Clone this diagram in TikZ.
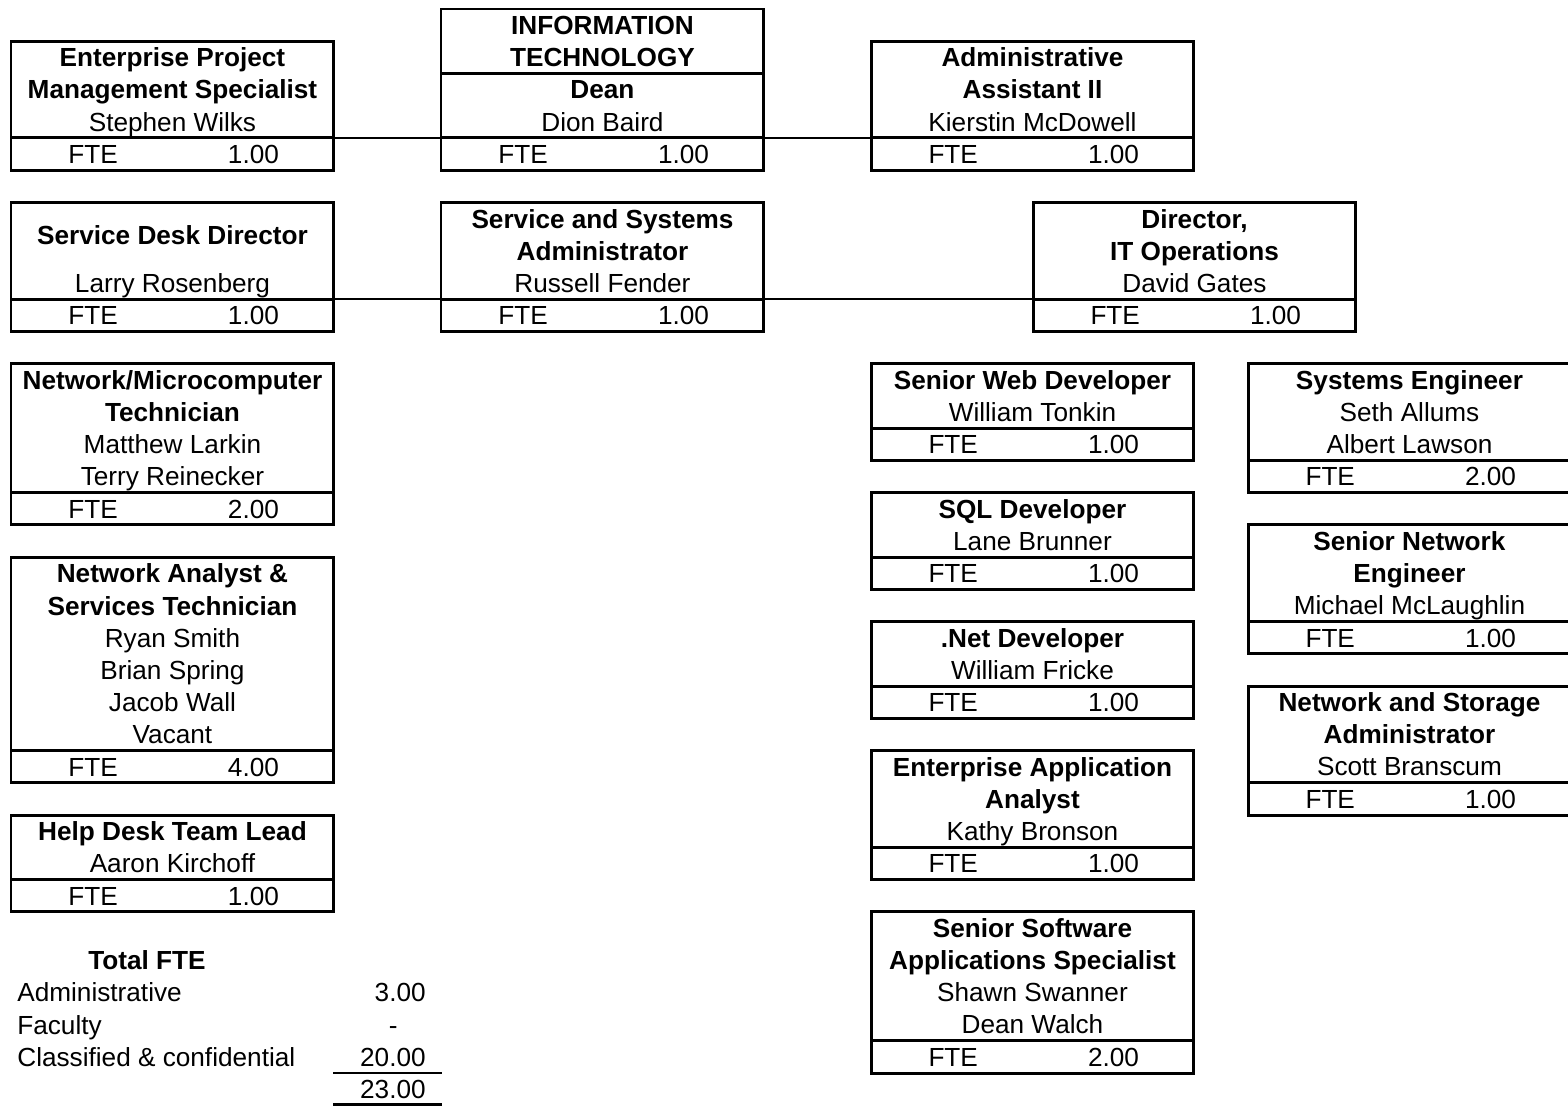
\documentclass[tikz,border=0pt]{standalone}
\usepackage{fontspec}
\setmainfont{Liberation Sans}
\usetikzlibrary{positioning}
\newcommand{\orgfont}{\fontsize{14.9pt}{18.29pt}\selectfont}
\newcommand{\rl}{\rule[-0.21\baselineskip]{0pt}{\baselineskip}}
\newcommand{\rll}{\rule[-0.21\baselineskip]{0pt}{1.5\baselineskip}}
\newcommand{\fte}[1]{\makebox[6.46cm]{\rl\hspace{1.15cm}FTE\hfill#1\hspace{1.1cm}}}
\tikzset{
card/.style={draw,line width=1.7pt,inner sep=0pt,outer sep=0pt,minimum width=6.46cm,minimum height=#1*0.645cm,align=center,anchor=north west,font=\orgfont},
card/.default=1,
fterow/.style={draw,line width=1.7pt,inner sep=0pt,outer sep=0pt,minimum width=6.46cm,minimum height=0.645cm,font=\orgfont,below=0pt of #1},
link/.style={line width=1.2pt},
total/.style={inner sep=0pt,font=\orgfont},
sumline/.style={line width=1.5pt}
}

\begin{document}
\begin{tikzpicture}[x=0.02cm,y=-0.645cm]
\useasboundingbox (0,-0.279) rectangle (1568,34.016);
\node[card=3] (epms) at (11,1) {\rl\textbf{Enterprise Project}\\\rl\textbf{Management Specialist}\\\rl Stephen Wilks};
\node[fterow=epms] (epmsfte) {\fte{1.00}};
\node[card=2] (ithead) at (441,0) {\rl\textbf{INFORMATION}\\\rl\textbf{TECHNOLOGY}};
\node[card=2,below=0pt of ithead] (itdean) {\rl\textbf{Dean}\\\rl Dion Baird};
\node[fterow=itdean] (itfte) {\fte{1.00}};
\node[card=3] (aa) at (871,1) {\rl\textbf{Administrative}\\\rl\textbf{Assistant II}\\\rl Kierstin McDowell};
\node[fterow=aa] (aafte) {\fte{1.00}};
\node[card=3] (sdd) at (11,6) {\rll\textbf{Service Desk Director}\\[0.5\baselineskip]\rl Larry Rosenberg};
\node[fterow=sdd] (sddfte) {\fte{1.00}};
\node[card=3] (ssa) at (441,6) {\rl\textbf{Service and Systems}\\\rl\textbf{Administrator}\\\rl Russell Fender};
\node[fterow=ssa] (ssafte) {\fte{1.00}};
\node[card=3] (dir) at (1033,6) {\rl\textbf{Director,}\\\rl\textbf{IT Operations}\\\rl David Gates};
\node[fterow=dir] (dirfte) {\fte{1.00}};
\node[card=4] (nmt) at (11,11) {\rl\textbf{Network/Microcomputer}\\\rl\textbf{Technician}\\\rl Matthew Larkin\\\rl Terry Reinecker};
\node[fterow=nmt] (nmtfte) {\fte{2.00}};
\node[card=6] (nast) at (11,17) {\rl\textbf{Network Analyst \&}\\\rl\textbf{Services Technician}\\\rl Ryan Smith\\\rl Brian Spring\\\rl Jacob Wall\\\rl Vacant};
\node[fterow=nast] (nastfte) {\fte{4.00}};
\node[card=2] (hdtl) at (11,25) {\rl\textbf{Help Desk Team Lead}\\\rl Aaron Kirchoff};
\node[fterow=hdtl] (hdtlfte) {\fte{1.00}};
\node[card=2] (swd) at (871,11) {\rl\textbf{Senior Web Developer}\\\rl William Tonkin};
\node[fterow=swd] (swdfte) {\fte{1.00}};
\node[card=2] (sql) at (871,15) {\rl\textbf{SQL Developer}\\\rl Lane Brunner};
\node[fterow=sql] (sqlfte) {\fte{1.00}};
\node[card=2] (net) at (871,19) {\rl\textbf{.Net Developer}\\\rl William Fricke};
\node[fterow=net] (netfte) {\fte{1.00}};
\node[card=3] (eaa) at (871,23) {\rl\textbf{Enterprise Application}\\\rl\textbf{Analyst}\\\rl Kathy Bronson};
\node[fterow=eaa] (eaafte) {\fte{1.00}};
\node[card=4] (ssas) at (871,28) {\rl\textbf{Senior Software}\\\rl\textbf{Applications Specialist}\\\rl Shawn Swanner\\\rl Dean Walch};
\node[fterow=ssas] (ssasfte) {\fte{2.00}};
\node[card=3] (se) at (1248,11) {\rl\textbf{Systems Engineer}\\\rl Seth Allums\\\rl Albert Lawson};
\node[fterow=se] (sefte) {\fte{2.00}};
\node[card=3] (sne) at (1248,16) {\rl\textbf{Senior Network}\\\rl\textbf{Engineer}\\\rl Michael McLaughlin};
\node[fterow=sne] (snefte) {\fte{1.00}};
\node[card=3] (nsa) at (1248,21) {\rl\textbf{Network and Storage}\\\rl\textbf{Administrator}\\\rl Scott Branscum};
\node[fterow=nsa] (nsafte) {\fte{1.00}};
\draw[link] (epms.south east) -- (itdean.south west);
\draw[link] (itdean.south east) -- (aa.south west);
\draw[link] (sdd.south east) -- (ssa.south west);
\draw[link] (ssa.south east) -- (dir.south west);
\node[total,font=\orgfont\bfseries] (tot) at (147,29.5) {\rl Total FTE};
\node[total,anchor=west] (adm) at (17,30.5) {\rl Administrative};
\node[total,anchor=west] (fac) at (17,31.5) {\rl Faculty};
\node[total,anchor=west] (cls) at (17,32.5) {\rl Classified \& confidential};
\node[total,anchor=east] (admval) at (426,30.5) {\rl 3.00};
\node[total,anchor=east] (facval) at (398,31.5) {\rl -};
\node[total,anchor=east] (clsval) at (426,32.5) {\rl 20.00};
\node[total,anchor=east] (sumval) at (426,33.5) {\rl 23.00};
\draw[sumline] (333,33) -- (442,33);
\draw[sumline] (333,33.97) -- (442,33.97);
\end{tikzpicture}
\end{document}
